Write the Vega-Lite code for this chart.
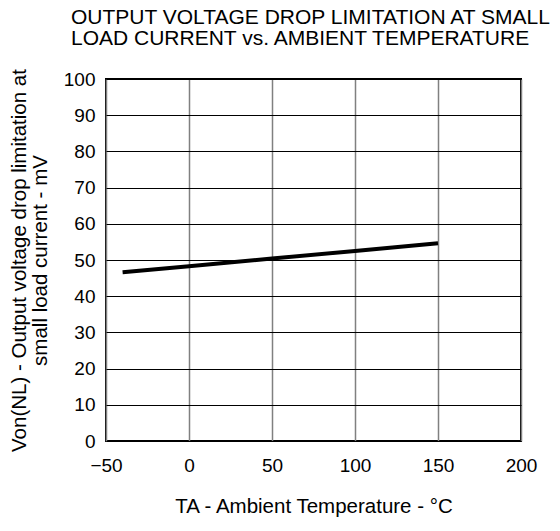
{
  "$schema": "https://vega.github.io/schema/vega-lite/v6.json",
  "autosize": {"type": "none"},
  "width": 415,
  "height": 362,
  "padding": {"left": 106, "top": 79, "right": 39, "bottom": 90},
  "background": "white",
  "title": {
    "text": ["OUTPUT VOLTAGE DROP LIMITATION AT SMALL", "LOAD CURRENT vs. AMBIENT TEMPERATURE"],
    "anchor": "start",
    "frame": "group",
    "dx": -35,
    "offset": 20,
    "font": "Liberation Sans",
    "fontSize": 21,
    "fontWeight": "normal",
    "color": "black",
    "lineHeight": 21
  },
  "data": {
    "values": [
      {"temp": -40, "v": 46.6},
      {"temp": 0, "v": 48.3},
      {"temp": 50, "v": 50.4},
      {"temp": 100, "v": 52.5},
      {"temp": 150, "v": 54.6}
    ]
  },
  "mark": {"type": "line", "color": "black", "strokeWidth": 4},
  "encoding": {
    "x": {
      "field": "temp",
      "type": "quantitative",
      "scale": {"domain": [-50, 200], "nice": false},
      "axis": {
        "values": [-50, 0, 50, 100, 150, 200],
        "title": "TA - Ambient Temperature - °C",
        "gridColor": "#808080",
        "gridWidth": 1.5,
        "labelFlush": false,
        "labelPadding": 15,
        "titlePadding": 21
      }
    },
    "y": {
      "field": "v",
      "type": "quantitative",
      "scale": {"domain": [0, 100], "nice": false},
      "axis": {
        "values": [0, 10, 20, 30, 40, 50, 60, 70, 80, 90, 100],
        "title": ["Von(NL) - Output voltage drop limitation at", "small load current - mV"],
        "gridColor": "black",
        "gridWidth": 1,
        "labelPadding": 11,
        "titlePadding": 13,
        "titleLineHeight": 21
      }
    }
  },
  "config": {
    "view": {"stroke": "black", "strokeWidth": 2},
    "axis": {
      "domain": false,
      "ticks": false,
      "grid": true,
      "labelFont": "Liberation Sans",
      "labelFontSize": 19,
      "labelColor": "black",
      "titleFont": "Liberation Sans",
      "titleFontSize": 20.5,
      "titleFontWeight": "normal",
      "titleColor": "black"
    }
  }
}
